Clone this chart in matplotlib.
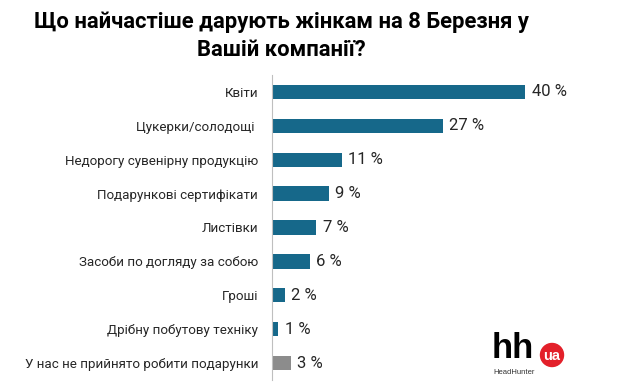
import matplotlib
matplotlib.use("Agg")
import matplotlib.pyplot as plt
from matplotlib.patches import Ellipse

categories = ["Квіти", "Цукерки/солодощі ", "Недорогу сувенірну продукцію",
              "Подарункові сертифікати", "Листівки", "Засоби по догляду за собою",
              "Гроші", "Дрібну побутову техніку", "У нас не прийнято робити подарунки"]
values = [40, 27, 11, 9, 7, 6, 2, 1, 3]
value_labels = ["40 %", "27 %", "11 %", "9 %", "7 %", "6 %", "2 %", "1 %", "3 %"]
title = "Що найчастіше дарують жінкам на 8 Березня у\nВашій компанії?"

plt.rcParams['font.family'] = ['Roboto', 'DejaVu Sans']

fig = plt.figure(figsize=(6.39, 3.87), dpi=100)
ax = fig.add_axes([272/639, 1-380/387, 360/639, 305/387])

colors = ["#16688A"] * 8 + ["#8C8C8C"]
y = list(range(len(categories)))
ax.barh(y, values, height=0.42, color=colors)
ax.set_ylim(len(categories) - 0.5, -0.5)
ax.set_xlim(0, 360/6.33)
ax.set_yticks(y)
ax.set_yticklabels(categories, fontsize=9.6, color="#262626")
ax.tick_params(axis='y', length=0, pad=10)
ax.set_xticks([])
for s in ["top", "right", "bottom"]:
    ax.spines[s].set_visible(False)
ax.spines["left"].set_color("#BFBFBF")
for yi, v, lab in zip(y, values, value_labels):
    ax.text(v + 1.0, yi, lab, va="center", ha="left", fontsize=12, color="#262626")

fig.text(0.441, 1-36/387, title, ha="center", va="center", fontsize=15.8,
         fontweight="bold", color="#000000", linespacing=1.3)

# logo
fig.text(492/639, 1-349/387, "hh", fontsize=25, fontweight="bold", color="black",
         ha="left", va="center", family="Liberation Sans")
fig.text(493/639, 1-372/387, "HeadHunter", fontsize=5.5, color="#333333", ha="left", va="center",
         family="Liberation Sans")
ell = Ellipse((552/639, 1-355/387), 23/639, 23/387, transform=fig.transFigure, color="#E3202A")
fig.patches.append(ell)
fig.text(552/639, 1-356/387, "ua", fontsize=10.5, fontweight="bold", color="white",
         ha="center", va="center", family="Liberation Sans")

fig.savefig("out.png", dpi=100)
